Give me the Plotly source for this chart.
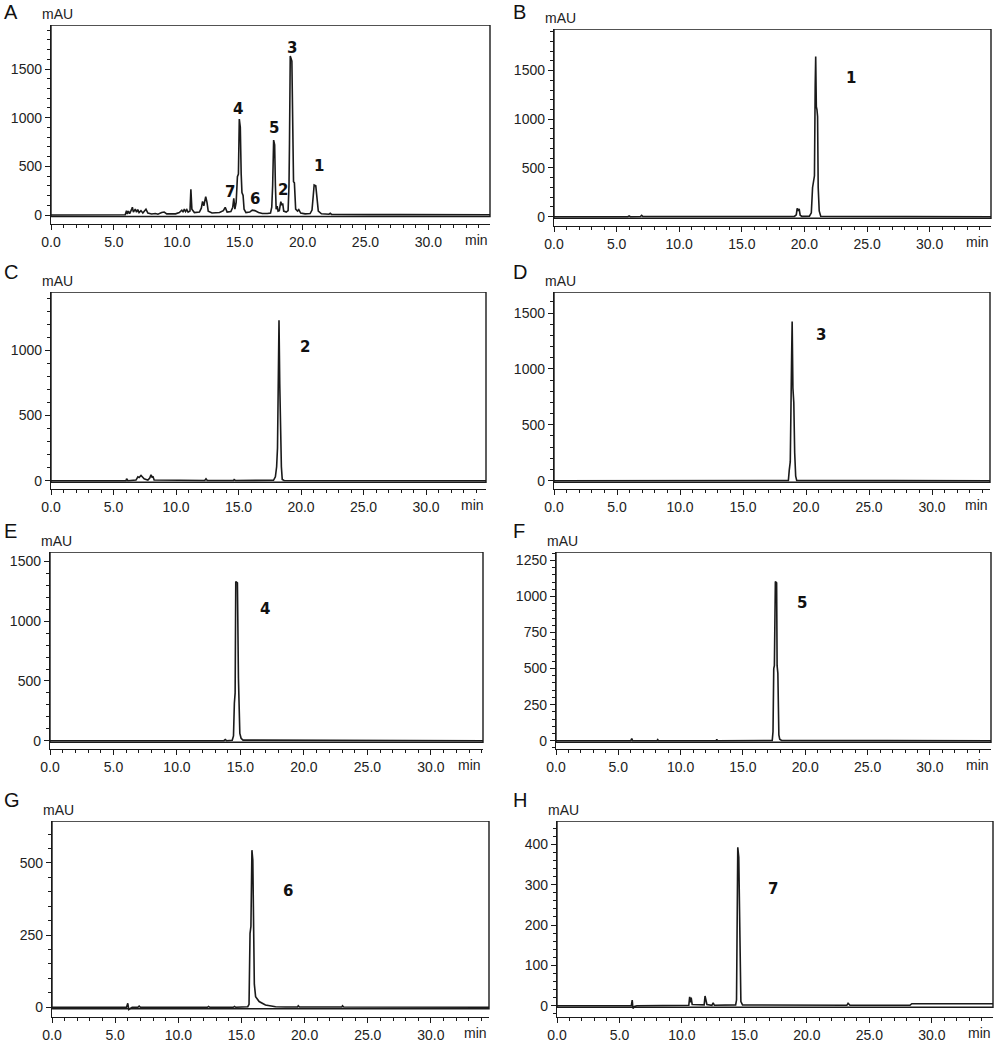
import plotly.graph_objects as go
from plotly.subplots import make_subplots

# retention time (min) / absorbance (mAU)
a_time = [0, 5.9, 6.0, 6.06, 6.15, 6.25, 6.4, 6.47, 6.55, 6.7, 6.8, 6.9, 7.0, 7.15, 7.3, 7.55, 7.7,
          8.0, 8.3, 8.5, 8.8, 9.0, 9.2, 9.6, 9.9, 10.2, 10.4, 10.5, 10.6, 10.7, 10.8, 10.9, 11.05,
          11.12, 11.2, 11.4, 11.8, 11.95, 12.05, 12.15, 12.3, 12.4, 12.5, 12.8, 13.4, 13.7, 13.85,
          14.0, 14.3, 14.45, 14.53, 14.62, 14.72, 14.82, 14.9, 14.97, 15.05, 15.12, 15.18, 15.27,
          15.35, 15.5, 15.8, 16.0, 16.2, 16.5, 16.8, 17.2, 17.45, 17.55, 17.62, 17.7, 17.78, 17.84,
          17.9, 17.98, 18.05, 18.15, 18.27, 18.35, 18.42, 18.5, 18.7, 18.85, 18.92, 18.96, 19.02,
          19.15, 19.22, 19.28, 19.35, 19.45, 19.6, 19.7, 19.85, 20.2, 20.6, 20.75, 20.85, 20.92,
          21.05, 21.15, 21.25, 21.5, 22.1, 22.2, 22.3, 25.4, 27.6, 27.7, 34.9]
a_mau = [0, 2, 45, 10, 40, 15, 55, 80, 30, 60, 30, 55, 25, 45, 20, 60, 20,
         10, 15, 8, 25, 30, 12, 15, 12, 25, 50, 30, 60, 35, 55, 30, 40,
         264, 60, 25, 30, 70, 140, 95, 188, 130, 40, 20, 25, 45, 79,
         30, 35, 80, 171, 60, 130, 394, 420, 986, 900, 420, 230, 200,
         60, 25, 30, 50, 45, 25, 15, 15, 20, 80, 300, 770, 720, 300,
         60, 90, 40, 45, 137, 100, 120, 40, 30, 45, 300, 736, 1634,
         1580, 900, 342, 330, 60, 40, 55, 20, 12, 15, 50, 200, 308,
         300, 120, 40, 12, 8, 18, 6, 4, 10, 4, 3]

b_time = [0, 5.9, 6.0, 6.1, 6.9, 7.0, 7.1, 19.2, 19.35, 19.42, 19.5, 19.58, 19.66, 19.8,
          20.4, 20.55, 20.65, 20.72, 20.8, 20.86, 20.9, 20.95, 21.0, 21.05, 21.1, 21.18, 21.3, 34.9]
b_mau = [0, 0, 8, 0, 2, 14, 2, 3, 20, 86, 60, 80, 15, 3,
         5, 40, 300, 360, 420, 1350, 1644, 1130, 1100, 1027, 300, 60, 5, 0]

c_time = [0, 6.0, 6.05, 6.15, 6.8, 6.95, 7.05, 7.2, 7.3, 7.45, 7.6, 7.75, 7.9, 8.0, 8.08, 8.15,
          8.25, 12.3, 12.4, 12.5, 14.6, 14.65, 14.75, 17.8, 17.95, 18.05, 18.12, 18.18, 18.24,
          18.3, 18.36, 18.43, 18.5, 18.65, 34.8]
c_mau = [0, 0, 15, 0, 5, 30, 25, 40, 30, 15, 10, 5, 20, 45, 25, 35,
         5, 2, 15, 2, 2, 8, 2, 3, 30, 107, 250, 870, 1230,
         745, 400, 107, 10, 2, 0]

d_time = [0, 5.85, 5.9, 5.95, 18.6, 18.67, 18.75, 18.86, 18.9, 18.96, 19.03, 19.1, 19.18, 19.26, 34.6]
d_mau = [0, 0, 6, 0, 2, 95, 170, 1140, 1424, 827, 700, 250, 40, 3, 0]

e_time = [0, 5.85, 5.9, 5.95, 13.7, 13.8, 13.9, 14.35, 14.45, 14.52, 14.58, 14.63, 14.76,
          14.84, 14.9, 14.95, 15.05, 15.2, 34.1]
e_mau = [0, 0, 6, 0, 0, 10, 0, 3, 40, 313, 400, 1332, 1320,
         522, 120, 61, 20, 5, 0]

f_time = [0, 6.0, 6.08, 6.15, 8.1, 8.16, 8.22, 12.85, 12.9, 12.95, 17.35, 17.41, 17.47, 17.52,
          17.6, 17.7, 17.74, 17.8, 17.88, 17.95, 18.1, 34.9]
f_mau = [0, 0, 15, 0, 0, 7, 0, 0, 10, 0, 2, 62, 500, 520,
         1104, 1095, 520, 467, 40, 10, 2, 0]

g_time = [0, 5.9, 6.0, 6.08, 6.2, 6.35, 6.8, 6.9, 7.0, 12.3, 12.4, 12.5, 14.35, 14.45, 14.55,
          15.5, 15.6, 15.68, 15.75, 15.83, 15.9, 15.96, 16.02, 16.12, 16.4, 16.9, 17.7, 18.5,
          19.45, 19.5, 19.6, 22.95, 23.0, 23.1, 34.6]
g_mau = [0, 0, 14, -8, -4, 0, 0, 4, 0, 0, 3, 0, 0, 3, 0,
         2, 10, 256, 280, 544, 509, 192, 80, 37, 20, 8, 2, 1,
         1, 5, 1, 1, 5, 1, 0]

h_time = [0, 5.95, 6.02, 6.08, 6.2, 6.4, 10.55, 10.62, 10.68, 10.74, 10.82, 11.78, 11.85, 11.92,
          12.0, 12.4, 12.5, 12.6, 14.3, 14.37, 14.42, 14.47, 14.55, 14.66, 14.72, 14.85, 23.2,
          23.3, 23.45, 28.25, 28.4, 34.9]
h_mau = [0, 0, 14, -7, -2, 0, 1, 22, 8, 20, 3, 2, 24, 14,
         3, 1, 7, 1, 2, 14, 146, 393, 368, 63, 10, 2, 1,
         6, 1, 1, 5, 5]

# peak numbers: (time, mAU, label)
a_peaks = [(21.3, 507, "1"), (18.45, 257, "2"), (19.12, 1713, "3"), (14.87, 1089, "4"),
           (17.71, 891, "5"), (16.25, 164, "6"), (14.21, 239, "7")]
b_peaks = [(23.7, 1422, "1")]
c_peaks = [(20.3, 1025, "2")]
d_peaks = [(21.15, 1299, "3")]
e_peaks = [(16.96, 1104, "4")]
f_peaks = [(19.7, 954, "5")]
g_peaks = [(18.67, 403, "6")]
h_peaks = [(17.3, 289, "7")]

W, H = 1004, 1050
FONT = "Liberation Sans, Arial, sans-serif"
INK = "#1a1a1a"

# panel frames in pixels: left, right, top, x-axis line, zero line, letter centre (ly);
# ytop = mAU at frame top
panels = [
    dict(letter="A", t=a_time, y=a_mau, peaks=a_peaks, left=51, right=490, top=25, axis=224, zero=215,
         ly=12, ytop=1952, xmax=34.9, dy=500, mdy=100),
    dict(letter="B", t=b_time, y=b_mau, peaks=b_peaks, left=554, right=991, top=29, axis=226, zero=216.7,
         ly=12, ytop=1926, xmax=34.9, dy=500, mdy=100),
    dict(letter="C", t=c_time, y=c_mau, peaks=c_peaks, left=51, right=486, top=292, axis=489, zero=480.7,
         ly=272, ytop=1446, xmax=34.8, dy=500, mdy=100),
    dict(letter="D", t=d_time, y=d_mau, peaks=d_peaks, left=554, right=990, top=292, axis=489, zero=480.7,
         ly=272, ytop=1688, xmax=34.6, dy=500, mdy=100),
    dict(letter="E", t=e_time, y=e_mau, peaks=e_peaks, left=50, right=483, top=552, axis=749, zero=740.7,
         ly=531, ytop=1579, xmax=34.1, dy=500, mdy=100),
    dict(letter="F", t=f_time, y=f_mau, peaks=f_peaks, left=556, right=991, top=552, axis=749, zero=740.7,
         ly=531, ytop=1308, xmax=34.9, dy=250, mdy=50),
    dict(letter="G", t=g_time, y=g_mau, peaks=g_peaks, left=52, right=489, top=821, axis=1017, zero=1007.3,
         ly=800, ytop=645, xmax=34.6, dy=250, mdy=50),
    dict(letter="H", t=h_time, y=h_mau, peaks=h_peaks, left=557, right=993, top=821, axis=1017, zero=1005.7,
         ly=800, ytop=458, xmax=34.9, dy=100, mdy=20),
]

fig = make_subplots(rows=4, cols=2)
annotations = []
shapes = []

for i, p in enumerate(panels):
    row, col = i // 2 + 1, i % 2 + 1
    n = "" if i == 0 else str(i + 1)
    upp = p["ytop"] / (p["zero"] - p["top"])  # mAU per pixel
    ymin = -(p["axis"] - p["zero"]) * upp

    fig.add_trace(go.Scatter(x=p["t"], y=p["y"], mode="lines",
                             line=dict(color=INK, width=1.6), showlegend=False,
                             hoverinfo="skip"), row=row, col=col)

    fig.update_xaxes(row=row, col=col,
                     domain=[p["left"] / W, p["right"] / W], range=[0, p["xmax"]],
                     dtick=5, tick0=0, tickformat=".1f", automargin=False,
                     showline=True, linecolor=INK, linewidth=1.4,
                     ticks="outside", ticklen=5, tickwidth=1.3, tickcolor=INK,
                     minor=dict(dtick=1, tick0=0, ticks="outside", ticklen=3, tickwidth=1.1, tickcolor=INK),
                     showgrid=False, zeroline=False,
                     tickfont=dict(family=FONT, size=14, color="#222"))
    fig.update_yaxes(row=row, col=col,
                     domain=[1 - p["axis"] / H, 1 - p["top"] / H], range=[ymin, p["ytop"]],
                     dtick=p["dy"], tick0=0, automargin=False,
                     showline=True, linecolor=INK, linewidth=1.4,
                     ticks="outside", ticklen=5, tickwidth=1.3, tickcolor=INK,
                     minor=dict(dtick=p["mdy"], tick0=0, ticks="outside", ticklen=3, tickwidth=1.1, tickcolor=INK),
                     showgrid=False, zeroline=False,
                     tickfont=dict(family=FONT, size=14, color="#222"))

    # plot frame: top/right/bottom (bottom sits on the zero line)
    shapes.append(dict(type="rect", xref="x" + n + " domain", yref="y" + n,
                       x0=0, x1=1, y0=-1.5 * upp, y1=p["ytop"],
                       line=dict(color=INK, width=1.4), fillcolor="rgba(0,0,0,0)"))

    annotations.append(dict(text=p["letter"], xref="paper", yref="paper",
                            x=(2 if col == 1 else 511) / W, y=1 - p["ly"] / H,
                            xanchor="left", yanchor="middle", showarrow=False,
                            font=dict(family=FONT, size=20, color="#111")))
    annotations.append(dict(text="mAU", xref="paper", yref="paper",
                            x=(p["left"] - 11) / W, y=1 - (p["top"] - 1) / H,
                            xanchor="left", yanchor="bottom", showarrow=False,
                            font=dict(family=FONT, size=14, color="#222")))
    annotations.append(dict(text="min", xref="paper", yref="paper",
                            x=p["right"] / W, y=1 - (p["axis"] + 16) / H,
                            xanchor="right", yanchor="middle", showarrow=False,
                            font=dict(family=FONT, size=14, color="#222")))
    for px, py, lab in p["peaks"]:
        annotations.append(dict(text="<b>" + lab + "</b>", xref="x" + n, yref="y" + n,
                                x=px, y=py, showarrow=False,
                                font=dict(family="DejaVu Sans, Verdana, sans-serif", size=15, color="#111")))

fig.update_layout(template="none", width=W, height=H, margin=dict(l=0, r=0, t=0, b=0, pad=0),
                  plot_bgcolor="white", paper_bgcolor="white",
                  shapes=shapes, annotations=annotations, showlegend=False)

# the page body has a default 8px margin; drop it so the figure fills the window
fig.write_html("out.html", config={"displayModeBar": False},
               post_script="document.body.style.margin='0px';")
